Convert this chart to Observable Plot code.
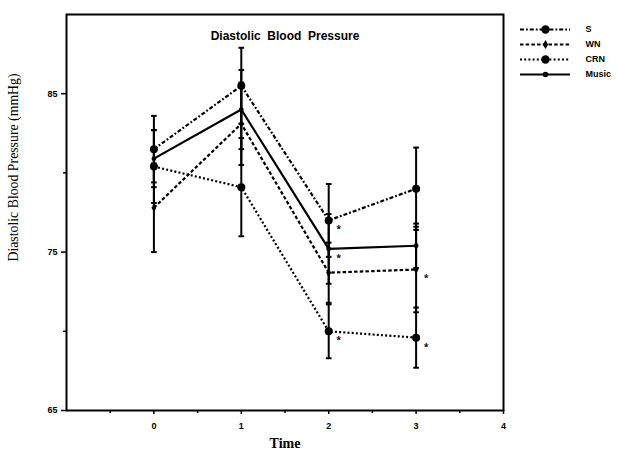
<!DOCTYPE html>
<html>
<head>
<meta charset="utf-8">
<script src="https://cdn.jsdelivr.net/npm/d3@7"></script>
<script src="https://cdn.jsdelivr.net/npm/@observablehq/plot@0.6"></script>
<style>
  html, body { margin: 0; padding: 0; background: #fff; }
  #wrap { position: relative; width: 617px; height: 456px; }
  #legend { position: absolute; left: 500px; top: 0px; }
</style>
</head>
<body>
<div id="wrap"><div id="chart"></div><div id="legend"></div></div>
<script>
const times = [0, 1, 2, 3];
const seriesNames = ["S", "WN", "CRN", "Music"];
const meanS     = [81.5, 85.5, 77.0, 79.0];
const meanWN    = [77.8, 83.1, 73.7, 73.9];
const meanCRN   = [80.4, 79.1, 70.0, 69.6];
const meanMusic = [80.9, 84.0, 75.2, 75.4];
const sdS     = [2.1, 2.4, 2.3, 2.6];
const sdWN    = [2.8, 2.6, 1.9, 2.7];
const sdCRN   = [2.3, 3.1, 1.7, 1.9];
const sdMusic = [1.8, 2.5, 2.2, 1.4];
const starSeries = ["S", "Music", "CRN", "WN", "CRN"];
const starTimes  = [2, 2, 2, 3, 3];
const yMajorTicks = [65, 75, 85];
const yMinorTicks = [70, 80];
const xMajorTicks = [0, 1, 2, 3, 4];
const xMinorTicks = [-0.5, 0.5, 1.5, 2.5, 3.5];

const means = {S: meanS, WN: meanWN, CRN: meanCRN, Music: meanMusic};
const sds = {S: sdS, WN: sdWN, CRN: sdCRN, Music: sdMusic};

const styles = {
  S:     {dash: "4,2,1.8,2", r: 4,   symbol: "circle"},
  WN:    {dash: "3.5,2.2",   r: 2.6, symbol: "diamond"},
  CRN:   {dash: "2,2.2",     r: 4,   symbol: "circle"},
  Music: {dash: null,        r: 2.4, symbol: "circle"}
};

const data = [];
for (const s of seriesNames) {
  times.forEach((t, i) => data.push({series: s, t, y: means[s][i], sd: sds[s][i]}));
}
const stars = starSeries.map((s, i) => ({t: starTimes[i], y: means[s][times.indexOf(starTimes[i])]}));

const capSymbol = {
  draw(context, size) {
    const r = Math.sqrt(size) / 2;
    context.moveTo(-r, 0);
    context.lineTo(r, 0);
  }
};

const marks = [];
// error bars
marks.push(Plot.ruleX(data, {x: "t", y1: d => d.y - d.sd, y2: d => d.y + d.sd, stroke: "#000", strokeWidth: 2}));
marks.push(Plot.dot(data, {x: "t", y: d => d.y - d.sd, symbol: capSymbol, r: 3.2, stroke: "#000", strokeWidth: 2}));
marks.push(Plot.dot(data, {x: "t", y: d => d.y + d.sd, symbol: capSymbol, r: 3.2, stroke: "#000", strokeWidth: 2}));
for (const s of seriesNames) {
  const rows = data.filter(d => d.series === s);
  const st = styles[s];
  marks.push(Plot.line(rows, {x: "t", y: "y", stroke: "#000", strokeWidth: 2.2, strokeDasharray: st.dash, strokeLinecap: "butt"}));
  marks.push(Plot.dot(rows, {x: "t", y: "y", r: st.r, symbol: st.symbol, fill: "#000", stroke: "none"}));
}
marks.push(Plot.text(stars, {x: "t", y: "y", text: () => "*", dx: 10, dy: 9, fontSize: 9, fontWeight: "bold", fill: "#000"}));

// axes
marks.push(Plot.axisY({ticks: yMajorTicks, tickSize: 5, tickFormat: d => String(d), fontSize: 9, fontWeight: "bold", fontFamily: "Liberation Sans, Arial, sans-serif", label: null, tickPadding: 4, strokeWidth: 1.5}));
marks.push(Plot.axisY({ticks: yMinorTicks, tickSize: 3, tickFormat: () => "", label: null, strokeWidth: 1.5}));
marks.push(Plot.axisX({ticks: xMajorTicks, tickSize: 4, tickFormat: d => String(d), fontSize: 9, fontWeight: "bold", fontFamily: "Liberation Sans, Arial, sans-serif", label: null, tickPadding: 8, strokeWidth: 1.5}));
marks.push(Plot.axisX({ticks: xMinorTicks, tickSize: 3, tickFormat: () => "", label: null, strokeWidth: 1.5}));
marks.push(Plot.frame({stroke: "#000", strokeWidth: 2}));

// titles
marks.push(Plot.text(["Diastolic  Blood  Pressure"], {frameAnchor: "top", dy: 17, fontSize: 12, fontWeight: 900, fontFamily: "Liberation Sans, Arial, sans-serif", fill: "#000", letterSpacing: "1.9px"}));
marks.push(Plot.text(["Diastolic Blood Pressure (mmHg)"], {frameAnchor: "left", textAnchor: "middle", dx: -53, dy: -45, rotate: -90, fontSize: 13.8, fontFamily: "Liberation Serif, Times New Roman, serif", fill: "#000"}));
marks.push(Plot.text(["Time"], {frameAnchor: "bottom", dy: 37, fontSize: 14, fontWeight: "bold", fontFamily: "Liberation Serif, Times New Roman, serif", fill: "#000", letterSpacing: "0.5px"}));

const chart = Plot.plot({
  width: 617,
  height: 456,
  marginTop: 14,
  marginBottom: 46,
  marginLeft: 66,
  marginRight: 114,
  x: {domain: [-1, 4]},
  y: {domain: [65, 90]},
  style: {background: "#fff", color: "#000", overflow: "visible"},
  marks
});
document.getElementById("chart").appendChild(chart);

// legend
const legendMarks = [];
for (const s of seriesNames) {
  const st = styles[s];
  legendMarks.push(Plot.ruleY([s], {y: d => d, x1: 0, x2: 1, stroke: "#000", strokeWidth: 2, strokeDasharray: st.dash}));
  legendMarks.push(Plot.dot([s], {y: d => d, x: 0.5, r: st.r === 4 ? 4.2 : 2.8, symbol: st.symbol, fill: "#000"}));
}
legendMarks.push(Plot.text(seriesNames, {y: d => d, x: 1, text: d => d, dx: 15, textAnchor: "start", fontSize: 9, fontWeight: "bold", fontFamily: "Liberation Sans, Arial, sans-serif", fill: "#000"}));
const legend = Plot.plot({
  width: 117,
  height: 100,
  margin: 0,
  x: {domain: [0, 1], range: [20, 70], axis: null},
  y: {type: "point", domain: seriesNames, range: [21, 82], axis: null},
  style: {background: "transparent", overflow: "visible"},
  marks: legendMarks
});
document.getElementById("legend").appendChild(legend);
</script>
</body>
</html>
